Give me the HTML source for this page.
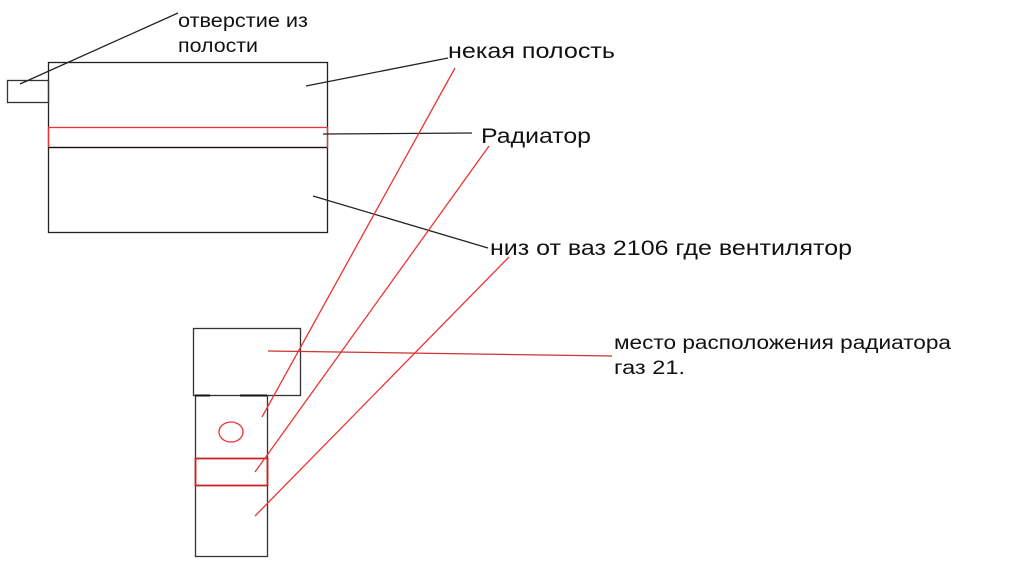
<!DOCTYPE html>
<html><head><meta charset="utf-8"><style>html,body{margin:0;padding:0;background:#fff;overflow:hidden}</style></head>
<body>
<svg width="1024" height="562" viewBox="0 0 1024 562" xmlns="http://www.w3.org/2000/svg" font-family="Liberation Sans, sans-serif" fill="#111">
<rect width="1024" height="562" fill="#fff"/>
<g fill="none" stroke-width="1.3">
<rect x="48.5" y="62.5" width="279" height="170" stroke="#222"/>
<rect x="7.5" y="80.5" width="41" height="22" stroke="#333"/>
<rect x="48.5" y="127.5" width="279" height="20" stroke="#e33"/>
<line x1="48" y1="147.5" x2="327" y2="147.5" stroke="#111"/>
<line x1="20" y1="84" x2="178" y2="13" stroke="#222"/>
<line x1="306" y1="86" x2="448" y2="58" stroke="#222"/>
<line x1="323" y1="134" x2="472" y2="133" stroke="#222"/>
<line x1="313" y1="196" x2="488" y2="248" stroke="#222"/>
<rect x="193.5" y="328.5" width="107" height="67" stroke="#333"/>
<path d="M195.5 395V556.5H267.5V395" stroke="#333"/>
<line x1="195" y1="395.5" x2="210" y2="395.5" stroke="#111" stroke-width="2"/>
<line x1="240" y1="395.5" x2="267" y2="395.5" stroke="#111" stroke-width="2"/>
<ellipse cx="231" cy="432" rx="12" ry="10" stroke="#e33"/>
<rect x="195.5" y="458.5" width="72" height="27" stroke="#c22" stroke-width="1.8"/>
<line x1="262" y1="417" x2="455" y2="68" stroke="#e33"/>
<line x1="255" y1="472" x2="489" y2="146" stroke="#e33"/>
<line x1="255" y1="516" x2="509" y2="257" stroke="#e33"/>
<line x1="268" y1="351" x2="612" y2="356" stroke="#c33"/>
</g>
<g font-size="19">
<text x="178" y="27" textLength="130" lengthAdjust="spacingAndGlyphs">отверстие из</text>
<text x="178" y="52" textLength="80" lengthAdjust="spacingAndGlyphs">полости</text>
<text x="448" y="58" font-size="21" textLength="167" lengthAdjust="spacingAndGlyphs">некая полость</text>
<text x="481" y="143" font-size="21" textLength="110" lengthAdjust="spacingAndGlyphs">Радиатор</text>
<text x="490" y="255" font-size="21" textLength="362" lengthAdjust="spacingAndGlyphs">низ от ваз 2106 где вентилятор</text>
<text x="614" y="349" textLength="337" lengthAdjust="spacingAndGlyphs">место расположения радиатора</text>
<text x="614" y="374" textLength="71" lengthAdjust="spacingAndGlyphs">газ 21.</text>
</g>
</svg>
</body></html>
